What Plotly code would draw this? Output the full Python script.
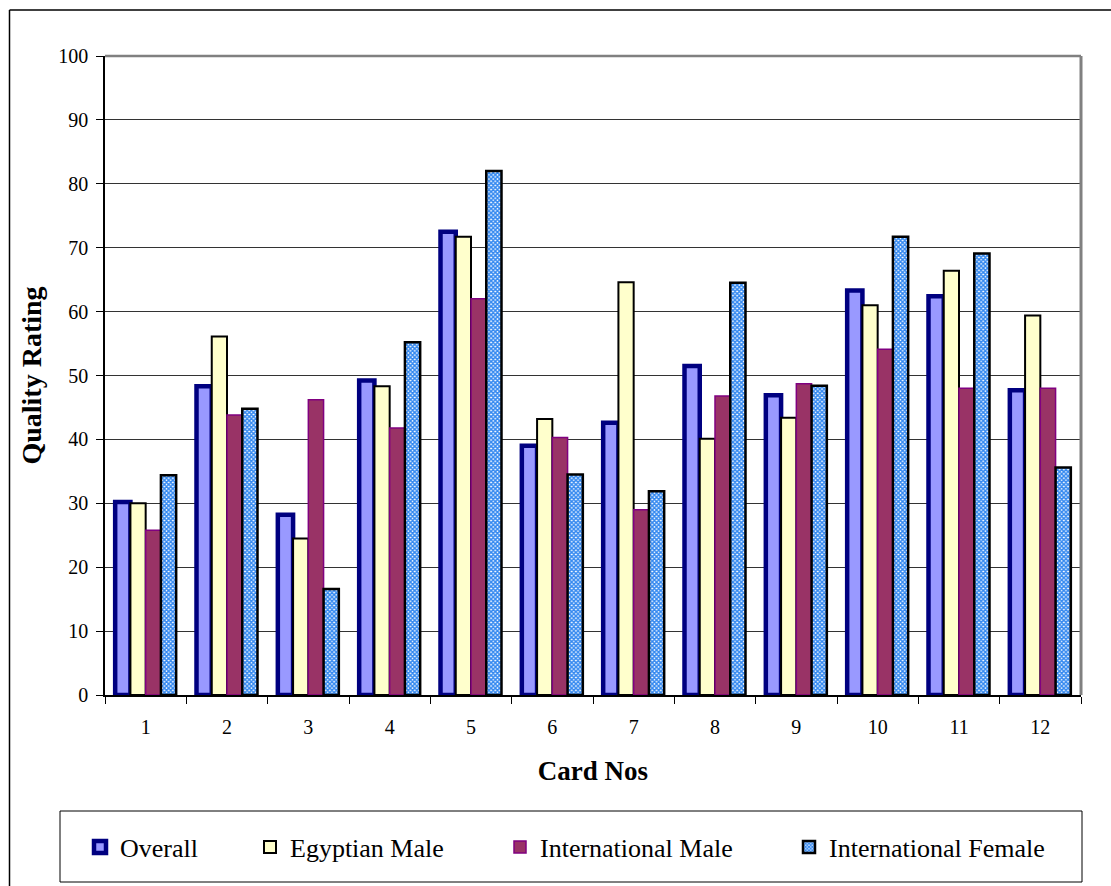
import plotly.graph_objects as go

# Card numbers on the category axis
cards = [str(i) for i in range(1, 13)]

# Mean quality rating per card, by respondent group
overall = [30.2, 48.3, 28.2, 49.2, 72.5, 39.0, 42.6, 51.5, 46.9, 63.3, 62.4, 47.7]
egyptian_male = [30.0, 56.1, 24.5, 48.3, 71.7, 43.2, 64.6, 40.1, 43.4, 61.0, 66.4, 59.4]
international_male = [25.8, 43.8, 46.2, 41.8, 62.0, 40.3, 29.0, 46.8, 48.7, 54.1, 48.0, 48.0]
international_female = [34.4, 44.8, 16.6, 55.2, 82.0, 34.5, 31.9, 64.5, 48.4, 71.7, 69.1, 35.6]

y_ticks = list(range(0, 101, 10))

W, H = 1111, 886
L, R, T, B = 105, 30, 56, 191
PW, PH = W - L - R, H - T - B


def px_x(px):
    return (px - L) / PW


def px_y(py):
    return (H - B - py) / PH


SERIF = "Liberation Serif, Times New Roman, serif"

fig = go.Figure()

fig.add_trace(go.Bar(
    name="Overall", x=cards, y=overall,
    marker=dict(color="#9999FF", line=dict(color="#000080", width=4.5)),
    legend="legend",
))
fig.add_trace(go.Bar(
    name="Egyptian Male", x=cards, y=egyptian_male,
    marker=dict(color="#FFFFCC", line=dict(color="#000000", width=2)),
    legend="legend2",
))
fig.add_trace(go.Bar(
    name="International Male", x=cards, y=international_male,
    marker=dict(color="#993366", line=dict(color="#800080", width=1.5)),
    legend="legend3",
))
fig.add_trace(go.Bar(
    name="International Female", x=cards, y=international_female,
    marker=dict(
        color="#FFFFFF",
        line=dict(color="#000000", width=2.5),
        pattern=dict(shape="x", size=3, solidity=0.75, fgcolor="#3388F0",
                     bgcolor="#FFFFFF", fillmode="replace"),
    ),
    legend="legend4",
))

legend_font = dict(family=SERIF, size=26, color="#000000")
legend_common = dict(
    orientation="h", yanchor="middle", xanchor="left",
    y=px_y(847), font=legend_font, bgcolor="rgba(0,0,0,0)",
    borderwidth=0, itemclick=False, itemdoubleclick=False,
)
text_starts = [120, 290, 540, 829]
legend_layout = {}
for i, key in enumerate(["legend", "legend2", "legend3", "legend4"]):
    legend_layout[key] = dict(legend_common, x=px_x(text_starts[i] - 40))

fig.update_layout(
    width=W, height=H,
    margin=dict(l=L, r=R, t=T, b=B, pad=0),
    paper_bgcolor="#FFFFFF", plot_bgcolor="#FFFFFF",
    barmode="group", bargap=0.25, bargroupgap=0,
    showlegend=True,
    font=dict(family=SERIF, size=20, color="#000000"),
    xaxis=dict(
        type="category",
        tickson="boundaries", ticks="outside", ticklen=7, tickwidth=1,
        tickcolor="#000000",
        showline=True, linecolor="#000000", linewidth=1.5,
        showgrid=False, zeroline=False,
        ticklabelstandoff=13,
        tickfont=dict(family=SERIF, size=20, color="#000000"),
        title=dict(text="<b>Card Nos</b>", standoff=24,
                   font=dict(family=SERIF, size=27, color="#000000")),
    ),
    yaxis=dict(
        range=[0, 100], tickvals=y_ticks,
        ticks="outside", ticklen=7, tickwidth=1, tickcolor="#000000",
        showline=True, linecolor="#000000", linewidth=1.5,
        showgrid=True, gridcolor="#333333", gridwidth=1,
        zeroline=False,
        ticklabelstandoff=4,
        tickfont=dict(family=SERIF, size=20, color="#000000"),
        title=dict(text="<b>Quality Rating</b>", standoff=8,
                   font=dict(family=SERIF, size=28, color="#000000")),
    ),
    **legend_layout,
)

# Plot-area frame: grey on top and right
fig.add_shape(type="line", xref="paper", yref="paper",
              x0=0, x1=1, y0=1, y1=1,
              line=dict(color="#808080", width=2.5))
fig.add_shape(type="line", xref="paper", yref="paper",
              x0=1, x1=1, y0=0, y1=1,
              line=dict(color="#808080", width=3))

# Legend box
fig.add_shape(type="rect", xref="paper", yref="paper",
              x0=px_x(60), x1=px_x(1082), y0=px_y(882), y1=px_y(811),
              line=dict(color="#000000", width=1), fillcolor="rgba(0,0,0,0)",
              layer="below")

# Chart-area frame (left and top edges)
fig.add_shape(type="line", xref="paper", yref="paper",
              x0=px_x(9.5), x1=px_x(9.5), y0=px_y(H + 5), y1=px_y(10),
              line=dict(color="#000000", width=1.5))
fig.add_shape(type="line", xref="paper", yref="paper",
              x0=px_x(9.5), x1=px_x(W + 5), y0=px_y(10), y1=px_y(10),
              line=dict(color="#000000", width=1.5))

fig.write_html("out.html")
